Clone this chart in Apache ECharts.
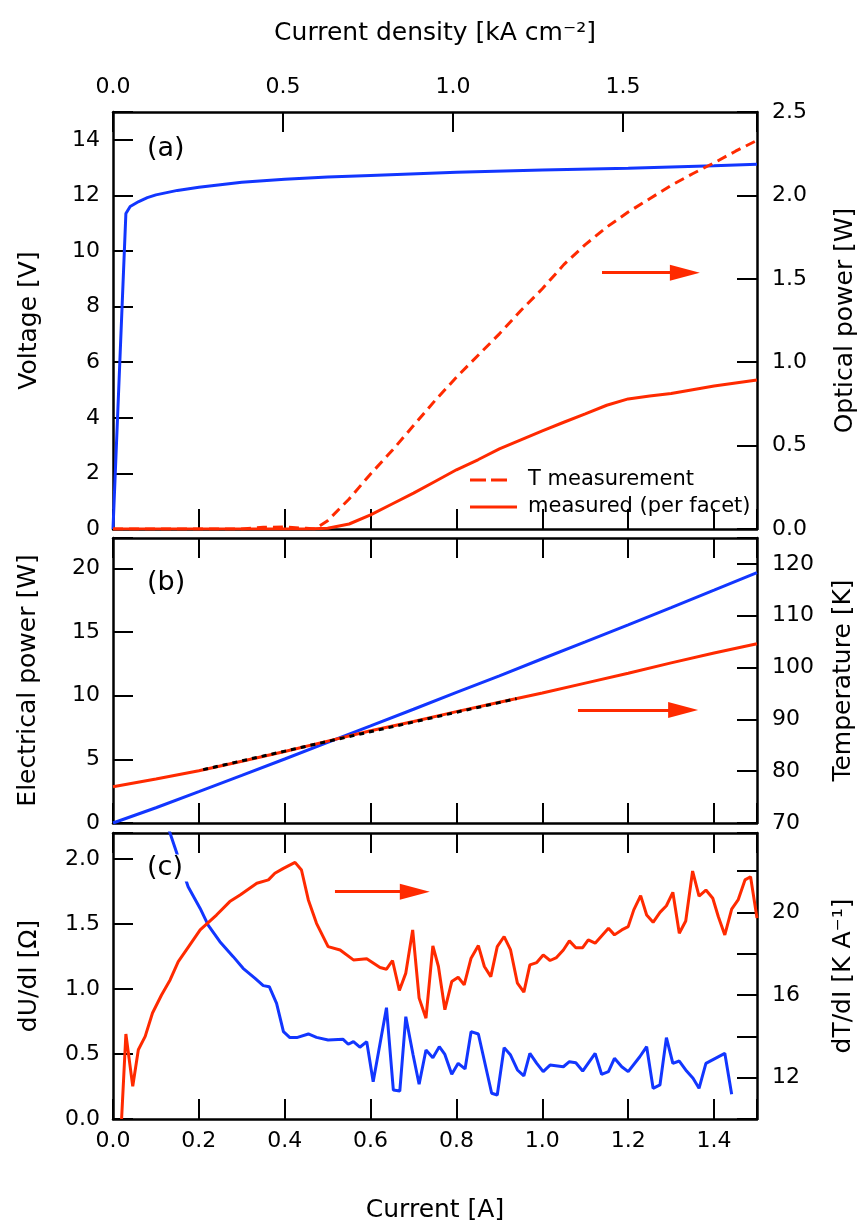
<!DOCTYPE html>
<html>
<head>
<meta charset="utf-8">
<script src="https://cdn.jsdelivr.net/npm/echarts@6/dist/echarts.min.js"></script>
<style>
  html, body { margin: 0; padding: 0; background: #fff; }
  #chart { width: 864px; height: 1228px; }
</style>
</head>
<body>
<div id="chart"></div>
<script>
// ---- (a) voltage and optical power versus current ----
const voltageCurrent = [0, 0.03, 0.04, 0.06, 0.08, 0.1, 0.15, 0.2, 0.3, 0.4, 0.5, 0.6, 0.8, 1.0, 1.2, 1.4, 1.5];
const voltageValues  = [0, 11.35, 11.6, 11.78, 11.92, 12.02, 12.18, 12.29, 12.47, 12.58, 12.66, 12.72, 12.83, 12.91, 12.98, 13.07, 13.12];

const tMeasCurrent = [0, 0.3, 0.35, 0.4, 0.45, 0.47, 0.5, 0.55, 0.6, 0.65, 0.7, 0.75, 0.8, 0.85, 0.9, 0.95, 1.0, 1.05, 1.1, 1.15, 1.2, 1.25, 1.3, 1.35, 1.4, 1.45, 1.5];
const tMeasPower   = [0, 0, 0.01, 0.012, 0.004, 0, 0.05, 0.18, 0.33, 0.47, 0.62, 0.77, 0.91, 1.04, 1.17, 1.31, 1.44, 1.585, 1.705, 1.81, 1.9, 1.98, 2.06, 2.13, 2.195, 2.265, 2.33];

const facetCurrent = [0, 0.45, 0.5, 0.55, 0.6, 0.65, 0.7, 0.75, 0.8, 0.85, 0.9, 0.95, 1.0, 1.05, 1.1, 1.15, 1.2, 1.25, 1.3, 1.35, 1.4, 1.45, 1.5];
const facetPower   = [0, 0, 0.005, 0.03, 0.085, 0.15, 0.215, 0.285, 0.355, 0.415, 0.48, 0.535, 0.588, 0.64, 0.69, 0.742, 0.78, 0.797, 0.812, 0.835, 0.857, 0.875, 0.893];

const legendNames = ['T measurement', 'measured (per facet)'];

// ---- (b) electrical power and temperature ----
const gridCurrent     = [0, 0.1, 0.2, 0.3, 0.4, 0.5, 0.6, 0.7, 0.8, 0.9, 1.0, 1.1, 1.2, 1.3, 1.4, 1.5];
const electricalPower = [0, 1.2, 2.46, 3.74, 5.03, 6.33, 7.63, 8.94, 10.26, 11.57, 12.91, 14.24, 15.58, 16.93, 18.3, 19.68];
const temperature     = [77.0, 78.5, 80.1, 81.9, 83.8, 85.8, 87.8, 89.6, 91.5, 93.3, 95.1, 97.0, 98.9, 100.9, 102.8, 104.6];
const fitCurrent = [0.21, 0.94];
const fitTemp    = [80.3, 94.0];

// ---- (c) differential resistance and dT/dI ----
const dUdICurrent = [0.125, 0.133, 0.175, 0.203, 0.222, 0.249, 0.280, 0.303, 0.331, 0.350,
  0.364, 0.381, 0.397, 0.412, 0.428, 0.455, 0.474, 0.501, 0.536, 0.548,
  0.560, 0.575, 0.591, 0.606, 0.637, 0.653, 0.668, 0.682, 0.699, 0.713,
  0.729, 0.745, 0.760, 0.773, 0.789, 0.804, 0.820, 0.834, 0.851, 0.882,
  0.895, 0.911, 0.926, 0.942, 0.957, 0.971, 0.987, 1.002, 1.018, 1.049,
  1.063, 1.078, 1.094, 1.123, 1.138, 1.154, 1.168, 1.185, 1.200, 1.227,
  1.243, 1.258, 1.274, 1.289, 1.304, 1.319, 1.336, 1.351, 1.365, 1.381,
  1.425, 1.441];
const dUdIValues = [2.28, 2.198, 1.787, 1.62, 1.49, 1.364, 1.249, 1.159, 1.082, 1.026,
  1.018, 0.89, 0.672, 0.626, 0.626, 0.654, 0.628, 0.608, 0.613, 0.575,
  0.595, 0.552, 0.595, 0.287, 0.856, 0.223, 0.215, 0.787, 0.492, 0.267,
  0.531, 0.472, 0.556, 0.497, 0.344, 0.428, 0.385, 0.672, 0.654, 0.198,
  0.185, 0.549, 0.492, 0.377, 0.331, 0.505, 0.428, 0.364, 0.415, 0.402,
  0.441, 0.433, 0.369, 0.505, 0.344, 0.364, 0.467, 0.402, 0.364, 0.479,
  0.556, 0.236, 0.262, 0.626, 0.428, 0.446, 0.369, 0.313, 0.236, 0.428,
  0.505, 0.19];

const dTdICurrent = [0.020, 0.030, 0.046, 0.059, 0.075, 0.092, 0.113, 0.133, 0.152, 0.179,
  0.203, 0.241, 0.272, 0.296, 0.335, 0.362, 0.377, 0.397, 0.424, 0.439,
  0.455, 0.474, 0.501, 0.529, 0.560, 0.591, 0.622, 0.637, 0.651, 0.667,
  0.682, 0.698, 0.713, 0.729, 0.745, 0.758, 0.773, 0.789, 0.804, 0.818,
  0.834, 0.851, 0.865, 0.880, 0.895, 0.911, 0.926, 0.942, 0.957, 0.971,
  0.987, 1.002, 1.018, 1.033, 1.049, 1.063, 1.078, 1.094, 1.107, 1.123,
  1.138, 1.154, 1.168, 1.185, 1.200, 1.213, 1.229, 1.243, 1.258, 1.274,
  1.289, 1.304, 1.319, 1.334, 1.350, 1.365, 1.381, 1.397, 1.410, 1.425,
  1.441, 1.456, 1.472, 1.485, 1.500];
const dTdIValues = [10.0, 14.11, 11.58, 13.35, 14.0, 15.13, 16.0, 16.73, 17.62, 18.43,
  19.15, 19.87, 20.52, 20.84, 21.41, 21.57, 21.89, 22.13, 22.42, 22.05,
  20.6, 19.47, 18.34, 18.18, 17.7, 17.75, 17.33, 17.25, 17.67, 16.22,
  17.06, 19.15, 15.85, 14.88, 18.38, 17.38, 15.29, 16.65, 16.86, 16.49,
  17.78, 18.39, 17.38, 16.89, 18.34, 18.83, 18.18, 16.57, 16.14, 17.46,
  17.57, 17.94, 17.67, 17.81, 18.18, 18.62, 18.29, 18.29, 18.67, 18.51,
  18.86, 19.23, 18.91, 19.15, 19.31, 20.12, 20.81, 19.87, 19.52, 20.0,
  20.32, 20.97, 18.99, 19.58, 22.0, 20.79, 21.08, 20.68, 19.79, 18.91,
  20.16, 20.6, 21.57, 21.72, 19.72];

// ---- axis ranges ----
const currentMax = 1.5;
const densityMax = 1.894;
const voltageRange = [0, 15];
const opticalRange = [0, 2.5];
const elecRange = [0, 22.4];
const tempRange = [70, 125];
const dUdIRange = [0, 2.2];
const dTdIRange = [10, 23.84];

const FONT = 'DejaVu Sans';
const BLUE = '#1236ff';
const RED = '#ff2a00';
const TICK_FS = 22;
const NAME_FS = 25;
const LW = 3;

const pairs = (xs, ys) => xs.map((x, i) => [x, ys[i]]);

const gridTops = [112, 538, 833];
const gridHeights = [417, 285, 286];

function xAxisCfg(gridIndex, position, extra) {
  return Object.assign({
    type: 'value', gridIndex, position,
    min: 0, max: currentMax, interval: 0.2,
    axisLine: { show: true, onZero: false, lineStyle: { color: '#000', width: 2.5 } },
    axisTick: { show: true, inside: true, length: 20, lineStyle: { color: '#000', width: 2 } },
    axisLabel: { show: false },
    splitLine: { show: false }
  }, extra || {});
}

function yAxisCfg(gridIndex, position, range, interval, fmt, name, nameGap) {
  return {
    type: 'value', gridIndex, position,
    min: range[0], max: range[1], interval,
    name, nameLocation: 'middle', nameRotate: 90, nameGap,
    nameTextStyle: { fontFamily: FONT, fontSize: NAME_FS, color: '#000' },
    axisLine: { show: true, onZero: false, lineStyle: { color: '#000', width: 2.5 } },
    axisTick: { show: true, inside: true, length: 20, lineStyle: { color: '#000', width: 2 } },
    axisLabel: { show: true, margin: position === 'left' ? 13 : 15, fontFamily: FONT, fontSize: TICK_FS, color: '#000', formatter: fmt },
    splitLine: { show: false }
  };
}

const near = (v, step) => Math.abs(v / step - Math.round(v / step)) < 1e-6;

// red arrows pointing at the right-hand axis of each panel
const arrow = (from, to) => ({
  silent: true,
  symbol: ['none', 'triangle'],
  symbolSize: [16, 30],
  lineStyle: { color: RED, width: LW, type: 'solid' },
  label: { show: false },
  emphasis: { disabled: true },
  data: [[{ coord: from }, { coord: to }]]
});

const lineSeries = (name, xi, yi, data, color, extra) => Object.assign({
  name, type: 'line', xAxisIndex: xi, yAxisIndex: yi, data,
  symbol: 'none', showSymbol: false, clip: true,
  lineStyle: { color, width: LW }, itemStyle: { color },
  z: 3
}, extra || {});

const panelLabel = (text, x, y) => ({
  type: 'text', x, y, z: 100,
  style: { text, font: '27px "DejaVu Sans"', fill: '#000', verticalAlign: 'middle',
    backgroundColor: '#fff', padding: [0, 7, 0, 2] }
});

const chart = echarts.init(document.getElementById('chart'), null, { renderer: 'canvas' });

chart.setOption({
  animation: false,
  backgroundColor: '#fff',
  textStyle: { fontFamily: FONT },
  grid: gridTops.map((t, i) => ({
    left: 113, right: 107, top: t, height: gridHeights[i],
    containLabel: false, outerBoundsMode: 'none'
  })),
  xAxis: [
    xAxisCfg(0, 'bottom'),
    xAxisCfg(0, 'top', {
      max: densityMax, interval: 0.5,
      name: 'Current density [kA cm⁻²]', nameLocation: 'middle', nameGap: 66,
      nameTextStyle: { fontFamily: FONT, fontSize: NAME_FS, color: '#000' },
      axisLabel: { show: true, margin: 14, fontFamily: FONT, fontSize: TICK_FS, color: '#000',
        formatter: v => near(v, 0.5) ? v.toFixed(1) : '' }
    }),
    xAxisCfg(1, 'bottom'),
    xAxisCfg(1, 'top'),
    xAxisCfg(2, 'bottom', {
      name: 'Current [A]', nameLocation: 'middle', nameGap: 79,
      nameTextStyle: { fontFamily: FONT, fontSize: NAME_FS, color: '#000' },
      axisLabel: { show: true, margin: 11, fontFamily: FONT, fontSize: TICK_FS, color: '#000',
        formatter: v => (near(v, 0.2) && v < 1.45) ? v.toFixed(1) : '' }
    }),
    xAxisCfg(2, 'top')
  ],
  yAxis: [
    yAxisCfg(0, 'left', voltageRange, 2, v => (near(v, 2) && v < 14.5) ? String(Math.round(v)) : '', 'Voltage [V]', 71),
    yAxisCfg(0, 'right', opticalRange, 0.5, v => v.toFixed(1), 'Optical power [W]', 76),
    yAxisCfg(1, 'left', elecRange, 5, v => (near(v, 5) && v < 21) ? String(Math.round(v)) : '', 'Electrical power [W]', 72),
    yAxisCfg(1, 'right', tempRange, 10, v => (near(v, 10) && v < 121) ? String(Math.round(v)) : '', 'Temperature [K]', 74),
    yAxisCfg(2, 'left', dUdIRange, 0.5, v => (near(v, 0.5) && v < 2.1) ? v.toFixed(1) : '', 'dU/dI [Ω]', 71),
    yAxisCfg(2, 'right', dTdIRange, 2, v => (near(v, 4) && v > 11 && v < 21) ? String(Math.round(v)) : '', 'dT/dI [K A⁻¹]', 74)
  ],
  series: [
    lineSeries('Voltage', 0, 0, pairs(voltageCurrent, voltageValues), BLUE),
    lineSeries(legendNames[0], 0, 1, pairs(tMeasCurrent, tMeasPower), RED,
      { lineStyle: { color: RED, width: LW, type: [10, 6] } }),
    lineSeries(legendNames[1], 0, 1, pairs(facetCurrent, facetPower), RED,
      { markLine: arrow([1.139, 1.537], [1.332, 1.537]) }),
    lineSeries('Electrical power', 2, 2, pairs(gridCurrent, electricalPower), BLUE),
    lineSeries('Temperature', 2, 3, pairs(gridCurrent, temperature), RED,
      { markLine: arrow([1.083, 91.8], [1.328, 91.8]) }),
    lineSeries('Linear fit', 2, 3, pairs(fitCurrent, fitTemp), '#000',
      { lineStyle: { color: '#000', width: LW, type: [5, 5] }, z: 4 }),
    lineSeries('dU/dI', 4, 4, pairs(dUdICurrent, dUdIValues), BLUE),
    lineSeries('dT/dI', 4, 5, pairs(dTdICurrent, dTdIValues), RED,
      { markLine: arrow([0.517, 21.0], [0.703, 21.0]) })
  ],
  graphic: [
    panelLabel('(a)', 145, 149),
    panelLabel('(b)', 145, 583),
    panelLabel('(c)', 145, 868),
    // key for the two optical power curves in panel (a)
    {
      type: 'group', x: 470, y: 466, z: 50,
      children: [
        { type: 'line', shape: { x1: 0, y1: 14, x2: 37, y2: 14 },
          style: { stroke: RED, lineWidth: LW, lineDash: [16, 5] } },
        { type: 'text', x: 58, y: 14,
          style: { text: legendNames[0], font: '21px "DejaVu Sans"', fill: '#000', verticalAlign: 'middle' } },
        { type: 'line', shape: { x1: 0, y1: 41, x2: 47, y2: 41 },
          style: { stroke: RED, lineWidth: LW } },
        { type: 'text', x: 58, y: 41,
          style: { text: legendNames[1], font: '21px "DejaVu Sans"', fill: '#000', verticalAlign: 'middle' } }
      ]
    }
  ]
});
</script>
</body>
</html>
